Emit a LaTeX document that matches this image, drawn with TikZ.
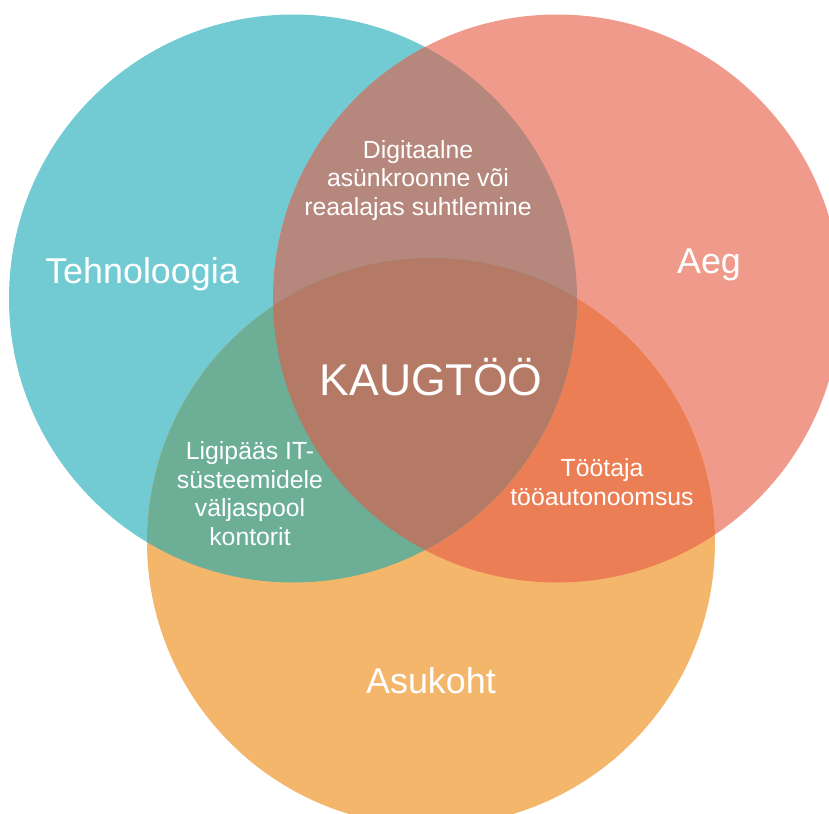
\documentclass[tikz,border=0pt]{standalone}
\usepackage{fontspec}
\setmainfont{Liberation Sans}

\definecolor{tehnocol}{HTML}{72CBD2}
\definecolor{aegcol}{HTML}{F09A8C}
\definecolor{kohtcol}{HTML}{F4B66B}
\definecolor{tehnoaeg}{HTML}{B6877C}
\definecolor{tehnokoht}{HTML}{6CAF96}
\definecolor{aegkoht}{HTML}{EC7E55}
\definecolor{koikcol}{HTML}{B47A66}

\begin{document}
\begin{tikzpicture}[x=0.01cm,y=-0.01cm,
  biglabel/.style={text=white,anchor=base,font=\fontsize{10.2}{12}\selectfont},
  smalllabel/.style={text=white,anchor=base,align=center,font=\fontsize{7.05}{8.1}\selectfont}]

\useasboundingbox (0,0) rectangle (829,814);
\clip (0,0) rectangle (829,814);

% circle centres
\coordinate (tehno) at (293,298.5);
\coordinate (aeg) at (557,298.5);
\coordinate (koht) at (431,542);

% the three sets
\fill[tehnocol] (tehno) circle (284);
\fill[aegcol] (aeg) circle (284);
\fill[kohtcol] (koht) circle (284);

% overlaps
\begin{scope}
  \clip (aeg) circle (284);
  \fill[aegkoht] (koht) circle (284);
\end{scope}
\begin{scope}
  \clip (tehno) circle (284);
  \fill[tehnoaeg] (aeg) circle (284);
  \fill[tehnokoht] (koht) circle (284);
  \clip (aeg) circle (284);
  \fill[koikcol] (koht) circle (284);
\end{scope}

% labels (multi-line: base is the last line)
\node[biglabel] (tehnoloogia) at (142,283) {Tehnoloogia};
\node[biglabel] (aegtxt) at (709,273) {Aeg};
\node[biglabel] (asukoht) at (431,693) {Asukoht};
\node[biglabel,font=\fontsize{12.66}{15}\selectfont] (kaugtoo) at (431,395) {KAUGTÖÖ};

\node[smalllabel] (suhtlus) at (418,215) {Digitaalne\\asünkroonne või\\reaalajas suhtlemine};
\node[smalllabel] (ligipaas) at (250,545) {Ligipääs IT-\\süsteemidele\\väljaspool\\kontorit};
\node[smalllabel] (autonoomia) at (602,505) {Töötaja\\tööautonoomsus};

\end{tikzpicture}
\end{document}
